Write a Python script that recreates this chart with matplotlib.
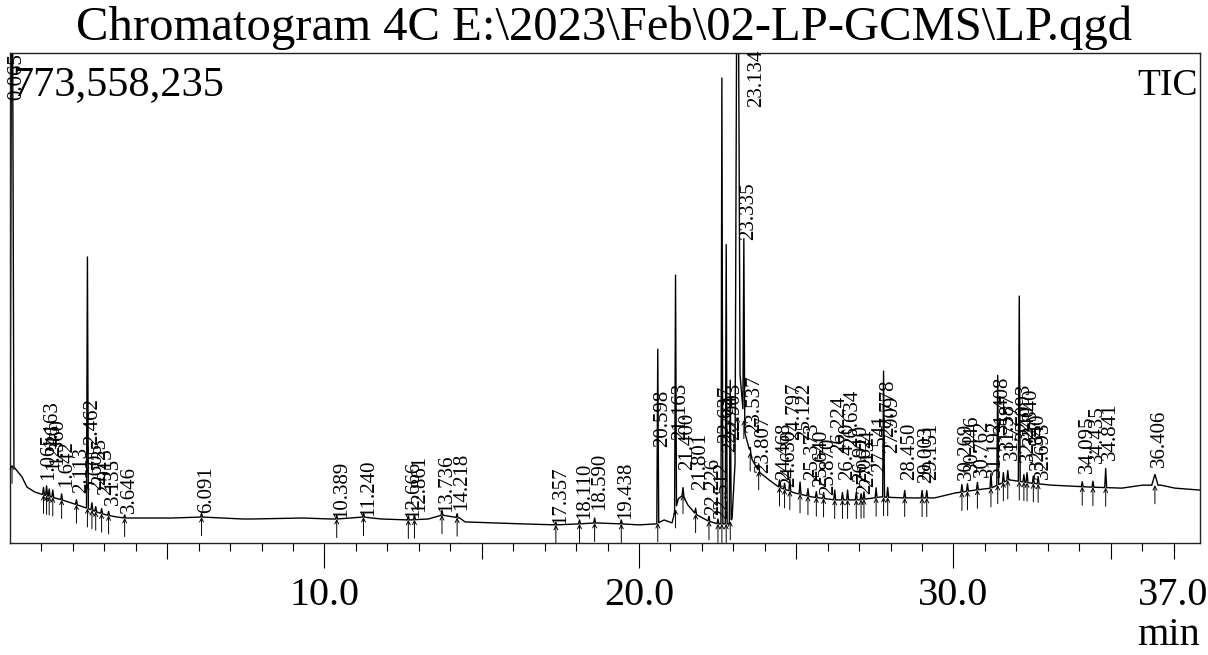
import numpy as np
import matplotlib
matplotlib.use("Agg")
import matplotlib.pyplot as plt
from matplotlib.ticker import FixedLocator

plt.rcParams["font.family"] = ["Liberation Serif", "DejaVu Serif"]

# baseline of the TIC trace (min, % of full scale 773,558,235)
bl_t = [0.0, 0.38, 0.54, 0.79, 1.08, 1.65, 2.13, 2.45, 2.77, 3.08, 3.40, 3.66, 4.20, 5.15,
        6.10, 7.40, 7.70, 9.30, 10.20, 10.40, 11.24, 11.80, 12.70, 13.30, 13.74, 14.30, 14.47,
        16.30, 17.36, 18.10, 18.60, 19.44, 20.00, 20.55, 20.80, 21.05, 21.25, 21.40, 21.55,
        21.80, 22.20, 22.50, 22.85, 22.96, 23.21, 23.37, 23.60, 23.82, 24.13, 24.45, 24.96,
        25.50, 26.23, 27.00, 27.70, 28.36, 29.40, 30.05, 30.68, 31.20, 31.76, 32.50, 33.13,
        34.40, 35.36, 36.00, 36.60, 37.04, 37.84]
bl_y = [16.5, 13.5, 11.4, 10.4, 9.8, 8.8, 7.8, 7.1, 6.3, 5.7, 5.3, 5.1, 5.1, 5.1,
        5.3, 4.9, 4.9, 5.1, 4.9, 4.9, 5.3, 4.9, 4.7, 4.9, 5.7, 5.1, 4.3,
        3.9, 3.7, 3.9, 4.1, 3.9, 3.7, 3.9, 4.7, 4.1, 9.0, 9.8, 7.8,
        5.9, 4.5, 3.9, 3.9, 5.0, 34.7, 22.4, 17.0, 14.5, 12.9, 11.4, 10.2,
        9.4, 8.8, 8.8, 9.4, 9.2, 9.2, 10.2, 10.8, 11.2, 12.9, 12.2, 11.8,
        11.4, 11.2, 11.8, 11.8, 11.2, 10.8]

# detected peaks: retention time, height above baseline (%), half width (min)
pk_t = [0.065, 1.065, 1.163, 1.246, 1.360, 1.642, 2.113, 2.462, 2.605, 2.725, 2.913, 3.135,
        3.646, 6.091, 10.389, 11.240, 12.666, 12.861, 13.736, 14.218, 17.357, 18.110, 18.590,
        19.438, 20.598, 21.163, 21.400, 21.801, 22.226, 22.512, 22.637, 22.774, 22.903, 23.134,
        23.335, 23.537, 23.807, 24.468, 24.630, 24.797, 25.122, 25.373, 25.640, 25.870, 26.224,
        26.470, 26.634, 26.910, 27.062, 27.154, 27.541, 27.778, 27.909, 28.450, 29.003, 29.151,
        30.269, 30.446, 30.762, 31.192, 31.408, 31.587, 31.727, 32.093, 32.240, 32.340, 32.540,
        32.693, 34.095, 34.435, 34.841, 36.406]
pk_h = [130, 1.5, 2.0, 1.5, 1.5, 1.2, 1.0, 51.3, 1.5, 1.0, 1.0, 0.8,
        0.6, 0.8, 0.7, 0.9, 0.8, 1.0, 1.0, 0.8, 0.5, 0.8, 1.0,
        0.8, 35.5, 47.8, 1.5, 1.2, 1.0, 1.0, 91.0, 57.0, 28.8, 130,
        37.0, 1.0, 1.5, 1.5, 1.2, 2.5, 2.5, 1.5, 1.2, 1.2, 2.0,
        1.5, 2.0, 1.5, 1.2, 1.5, 2.0, 25.7, 2.0, 1.5, 1.5, 1.5,
        1.5, 1.5, 1.5, 3.0, 22.4, 2.0, 2.0, 37.8, 1.5, 2.0, 1.5,
        1.5, 1.0, 1.2, 3.9, 2.2]
pk_w = [0.06] + [0.03] * 32 + [0.08] + [0.03] * 37 + [0.1]

# where each retention-time label starts (% of full scale)
lab_y = [90.4, 12.9, 19.6, 14.9, 16.0, 11.4, 10.2, 20.0, 10.8, 11.8, 9.8, 7.8,
         6.1, 6.1, 5.0, 5.5, 5.0, 6.3, 6.3, 6.7, 3.8, 4.9, 6.7,
         4.9, 19.6, 21.0, 14.9, 10.8, 5.7, 4.9, 20.4, 18.5, 21.0, 89.0,
         61.8, 22.4, 14.3, 12.9, 11.4, 21.0, 21.0, 12.9, 11.4, 9.8, 18.4,
         12.9, 19.6, 12.4, 10.0, 11.4, 14.5, 21.6, 18.4, 12.9, 12.2, 12.9,
         12.9, 14.5, 13.5, 13.5, 22.4, 19.0, 17.0, 21.0, 16.5, 20.0, 15.0,
         13.0, 14.3, 16.3, 17.0, 15.5]

title = r"Chromatogram 4C E:\2023\Feb\02-LP-GCMS\LP.qgd"
full_scale = "773,558,235"

# build the trace: baseline with the peaks standing on it
pts = []
for t, y in zip(bl_t, bl_y):
    if not any(abs(t - p) < w for p, w in zip(pk_t, pk_w)):
        pts.append((t, y))
for p, h, w in zip(pk_t, pk_h, pk_w):
    pts.append((p - w, np.interp(p - w, bl_t, bl_y)))
    pts.append((p, np.interp(p, bl_t, bl_y) + h))
    pts.append((p + w, np.interp(p + w, bl_t, bl_y)))
pts.sort()
tr_t = [a for a, b in pts]
tr_y = [b for a, b in pts]

fig = plt.figure(figsize=(12.08, 6.55), dpi=100)
ax = fig.add_axes([10 / 1208, 112 / 655, 1190 / 1208, 490 / 655])
ax.plot(tr_t, tr_y, color="k", lw=1.0)
ax.set_xlim(0, 37.84)
ax.set_ylim(0, 100)
ax.set_yticks([])

for p, ly in zip(pk_t, lab_y):
    dx = 14 if p == 23.134 else 3.5  # the main peak's label sits clear of its line
    ax.annotate(f"{p:.3f}", xy=(p, ly), xytext=(dx, 0), textcoords="offset points",
                rotation=90, ha="center", va="bottom", fontsize=15)
    base = np.interp(p, bl_t, bl_y)
    ax.annotate("", xy=(p, base), xytext=(p, base - 3.8),
                arrowprops=dict(arrowstyle="->", color="k", lw=0.7,
                                shrinkA=0, shrinkB=0, mutation_scale=7))

ax.text(2 / 1190, 448 / 490, full_scale, transform=ax.transAxes, ha="left",
        va="baseline", fontsize=30.5)
ax.text(1188 / 1190, 448 / 490, "TIC", transform=ax.transAxes, ha="right",
        va="baseline", fontsize=27)

for s in ax.spines.values():
    s.set_linewidth(1.0)
    s.set_color("#222222")

# x axis: long ticks at 10/20/30, medium every 5, short every minute
ax.set_xticks([10, 20, 30])
ax.set_xticklabels(["10.0", "20.0", "30.0"])
ax.xaxis.set_minor_locator(FixedLocator([i for i in range(1, 38) if i % 5]))
ax.tick_params(axis="x", which="major", length=18, width=0.8, pad=6.5, labelsize=29)
ax.tick_params(axis="x", which="minor", length=6, width=0.8)

ax2 = ax.twiny()
ax2.set_xlim(ax.get_xlim())
ax2.xaxis.set_ticks_position("bottom")
ax2.xaxis.set_label_position("bottom")
ax2.set_xticks([5, 15, 25, 35, 37])
ax2.set_xticklabels(["", "", "", "", "37.0"])
ax2.tick_params(axis="x", length=11.5, width=0.8, pad=13, labelsize=29)
for s in ax2.spines.values():
    s.set_visible(False)

fig.text(0.5, 615 / 655, title, ha="center", va="baseline", fontsize=35)
fig.text(1200 / 1208, 10 / 655, "min", ha="right", va="baseline", fontsize=29)

fig.savefig("out.png", dpi=100)
